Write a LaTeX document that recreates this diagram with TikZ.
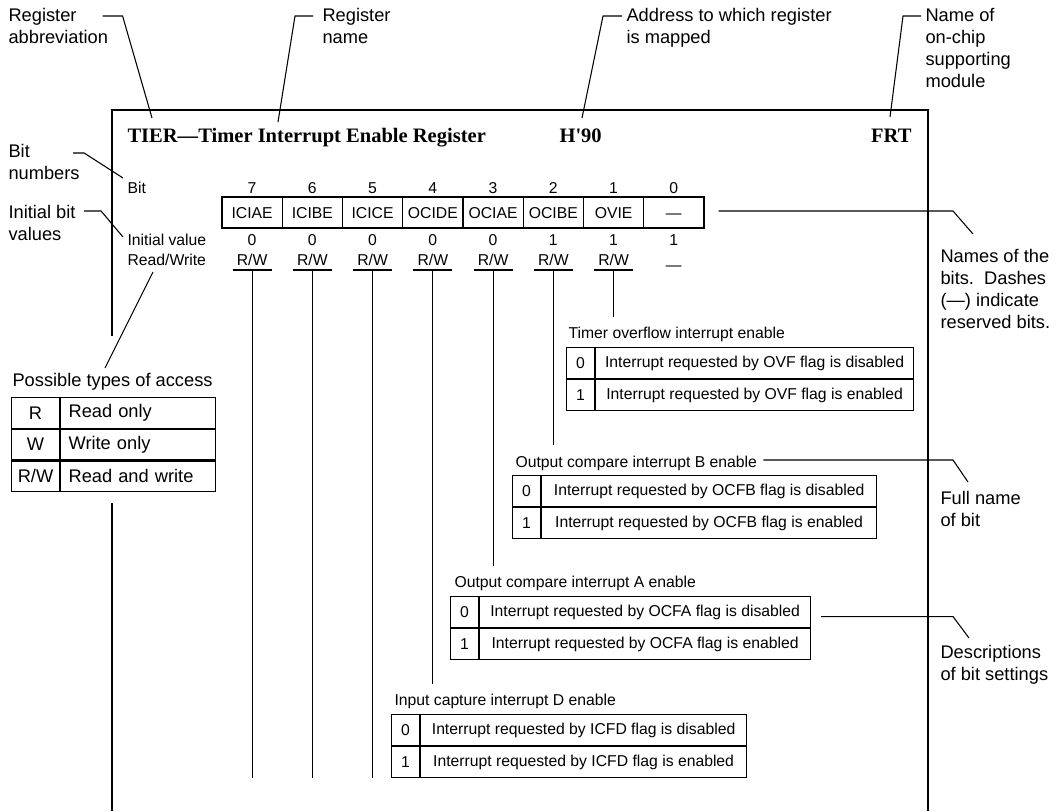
\documentclass[tikz,border=0pt]{standalone}
\usepackage{fontspec}
\setmainfont{Liberation Sans}
\newfontfamily\titlefont{Liberation Serif}
\usetikzlibrary{positioning}

\begin{document}
\begin{tikzpicture}[
	x=0.75pt,
	y=-0.75pt,
	line width=0.8pt,
	every node/.style={inner sep=0pt},
	lbl/.style={font=\fontsize{13.7}{16.5}\selectfont, align=left, anchor=north west},
	sml/.style={font=\fontsize{11.8}{14}\selectfont},
	hdr/.style={font=\titlefont\bfseries\fontsize{15.4}{18}\selectfont, anchor=base west},
	regcell/.style={sml, draw, minimum width=45.19pt, minimum height=23.25pt, text height=8.45pt, text depth=0pt},
	rwcell/.style={sml, anchor=south, minimum width=28.5pt, inner ysep=3pt},
	valbox/.style={sml, draw, minimum width=21pt, minimum height=23.25pt},
	descbox/.style={sml, draw, minimum width=#1, minimum height=23.25pt, inner xsep=6.75pt},
	accval/.style={lbl, anchor=center, draw, minimum width=36pt, minimum height=23pt},
	accdesc/.style={lbl, anchor=center, draw, text width=104pt, inner xsep=6pt, minimum height=23pt}
	]
	\useasboundingbox (0,0) rectangle (1063,811);
	
	% Frame
	\draw (112,336) -- (112,110) -- (928,110) -- (928,811);
	\draw (112,503) -- (112,811);
	
	% Title line
	\node[hdr] (tier) at (127,142) {TIER—Timer Interrupt Enable Register};
	\node[hdr] (h90) at (559,142) {H\textquotesingle 90};
	\node[hdr, anchor=base east] (frt) at (912,142) {FRT};
	
	% Row captions
	\node[sml, anchor=base west] (bitlbl) at (127,193) {Bit};
	\node[sml, anchor=base west] (initlbl) at (127,245.5) {Initial value};
	\node[sml, anchor=base west] (rwlbl) at (127,265.5) {Read/Write};
	
	% Register bits
	\foreach \nm/\iv [count=\i from 0] in {ICIAE/0,ICIBE/0,ICICE/0,OCIDE/0,OCIAE/0,OCIBE/1,OVIE/1,—/1}{
		\pgfmathtruncatemacro\b{7-\i}
		\pgfmathsetmacro\cx{252.1+60.25*\i}
		\node[sml, anchor=base] (bit\b) at (\cx,193) {\b};
		\node[regcell] (reg\b) at (\cx,212.5) {\nm};
		\node[sml, anchor=base] (init\b) at (\cx,245.5) {\iv};
	}
	
	% Read/Write
	\coordinate (rwline) at (0,270);
	\coordinate (cutoff) at (0,778);
	\foreach \b in {7,...,1}{
		\node[rwcell] (rw\b) at (bit\b |- rwline) {R/W};
		\draw (rw\b.south west) -- (rw\b.south east);
	}
	\node[sml, anchor=base] (rw0) at (bit0 |- rwline) {—};
	
	% Bit descriptions
	\node[sml, anchor=base west] (ovft) at (568,338.5) {Timer overflow interrupt enable};
	\node[valbox, anchor=north west] (ovf0) at (566,347) {0};
	\node[descbox=238.5pt, right=0pt of ovf0] (ovfd0) {Interrupt requested by OVF flag is disabled};
	\node[valbox, below=0pt of ovf0] (ovf1) {1};
	\node[descbox=238.5pt, right=0pt of ovf1] (ovfd1) {Interrupt requested by OVF flag is enabled};
	
	\node[sml, anchor=base west] (ocfbt) at (515,467) {Output compare interrupt B enable};
	\node[valbox, anchor=north west] (ocfb0) at (512,475) {0};
	\node[descbox=251.25pt, right=0pt of ocfb0] (ocfbd0) {Interrupt requested by OCFB flag is disabled};
	\node[valbox, below=0pt of ocfb0] (ocfb1) {1};
	\node[descbox=251.25pt, right=0pt of ocfb1] (ocfbd1) {Interrupt requested by OCFB flag is enabled};
	
	\node[sml, anchor=base west] (ocfat) at (454,587.5) {Output compare interrupt A enable};
	\node[valbox, anchor=north west] (ocfa0) at (450,596) {0};
	\node[descbox=248.25pt, right=0pt of ocfa0] (ocfad0) {Interrupt requested by OCFA flag is disabled};
	\node[valbox, below=0pt of ocfa0] (ocfa1) {1};
	\node[descbox=248.25pt, right=0pt of ocfa1] (ocfad1) {Interrupt requested by OCFA flag is enabled};
	
	\node[sml, anchor=base west] (icfdt) at (394,705.5) {Input capture interrupt D enable};
	\node[valbox, anchor=north west] (icfd0) at (391,714) {0};
	\node[descbox=244.5pt, right=0pt of icfd0] (icfdd0) {Interrupt requested by ICFD flag is disabled};
	\node[valbox, below=0pt of icfd0] (icfd1) {1};
	\node[descbox=244.5pt, right=0pt of icfd1] (icfdd1) {Interrupt requested by ICFD flag is enabled};
	
	% Lines from R/W down
	\draw[shorten >=7.5pt] (rw1.south) -- (rw1.south |- ovft.north);
	\draw[shorten >=7.5pt] (rw2.south) -- (rw2.south |- ocfbt.north);
	\draw[shorten >=7.5pt] (rw3.south) -- (rw3.south |- ocfat.north);
	\draw[shorten >=7.5pt] (rw4.south) -- (rw4.south |- icfdt.north);
	\foreach \b in {7,6,5}
		\draw (rw\b.south) -- (rw\b.south |- cutoff);
	
	% Possible types of access
	\node[lbl, anchor=base west] (acct) at (12,386.5) {Possible types of access};
	\node[accval, anchor=north west] (accr) at (11,397) {R};
	\node[accdesc, right=0pt of accr] (accrd) {Read only};
	\node[accval, below=0pt of accr] (accw) {W};
	\node[accdesc, right=0pt of accw] (accwd) {Write only};
	\node[accval, below=0pt of accw] (accrw) {R/W};
	\node[accdesc, right=0pt of accrw] (accrwd) {Read and write};
	
	% Callout labels
	\node[lbl] (abbr) at (8,8) {Register\\abbreviation};
	\node[lbl] (regname) at (322,8) {Register\\name};
	\node[lbl] (addr) at (626,8) {Address to which register\\is mapped};
	\node[lbl] (module) at (925,8) {Name of\\on-chip\\supporting\\module};
	\node[lbl] (bitnums) at (8,144) {Bit\\numbers};
	\node[lbl] (initbits) at (8,205) {Initial bit\\values};
	\node[lbl] (names) at (940,249) {Names of the\\bits.~~Dashes\\(—) indicate\\reserved bits.};
	\node[lbl] (fullname) at (940,491) {Full name\\of bit};
	\node[lbl] (descs) at (940,645) {Descriptions\\of bit settings};
	
	% Leaders
	\coordinate (bendx) at (953,0);
	\draw ([shift={(-6,8)}]abbr.north east) -- ++(20,0) -- ([shift={(25,-24)}]tier.base west);
	\draw ([shift={(-9,8)}]regname.north west) -- ++(-18,0) -- ([shift={(151,-20)}]tier.base west);
	\draw ([shift={(-4,8)}]addr.north west) -- ++(-19,0) -- ([shift={(23,-24)}]h90.base west);
	\draw ([shift={(-4,8)}]module.north west) -- ++(-18,0) -- ([shift={(-22,-25)}]frt.base east);
	\draw ([shift={(-7,9)}]bitnums.north east) -- ++(11,0) -- ([shift={(-4,-15)}]bitlbl.base west);
	\draw ([shift={(8,6)}]initbits.north east) -- ++(17,0) -- ([shift={(-4,-8.5)}]initlbl.base west);
	\draw ([shift={(26,6.5)}]rwlbl.base west) -- ([shift={(93,-18.5)}]acct.base west);
	\draw ([shift={(14,-1.5)}]reg0.east) coordinate (n0) -- (n0 -| bendx) -- ([shift={(33,-15)}]names.north west);
	\draw ([shift={(6,-7)}]ocfbt.base east) coordinate (f0) -- (f0 -| bendx) -- ([shift={(28,-9)}]fullname.north west);
	\draw ([shift={(10,4.5)}]ocfad0.east) coordinate (d0) -- (d0 -| bendx) -- ([shift={(29,-7)}]descs.north west);
\end{tikzpicture}
\end{document}
